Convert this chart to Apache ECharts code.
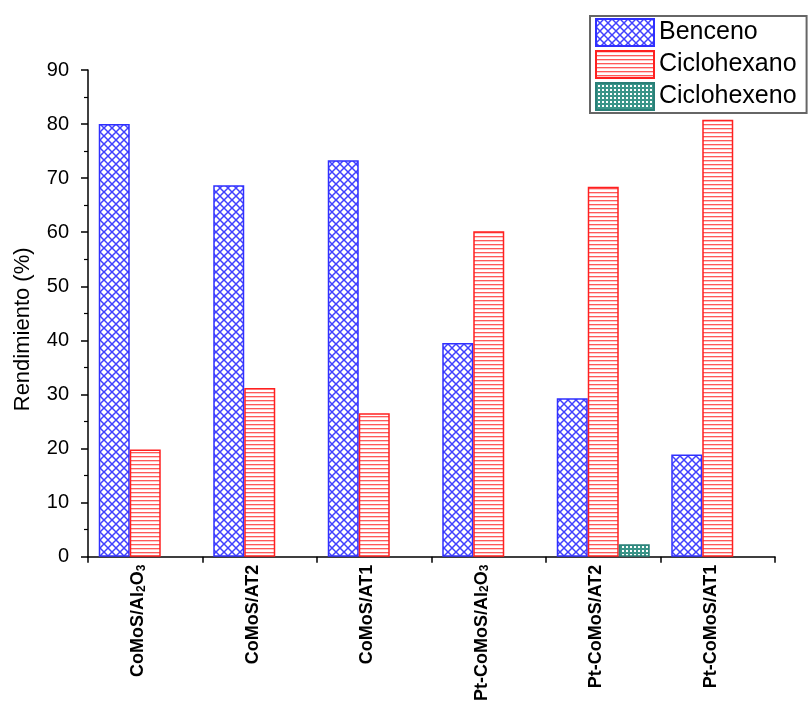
<!DOCTYPE html>
<html>
<head>
<meta charset="utf-8">
<script src="https://cdn.jsdelivr.net/npm/echarts@6/dist/echarts.min.js"></script>
<style>
html,body{margin:0;padding:0;background:#fff;}
#c{width:808px;height:704px;}
</style>
</head>
<body>
<div id="c"></div>
<script>
const categories = ['CoMoS/Al{s|2}O{s|3}', 'CoMoS/AT2', 'CoMoS/AT1', 'Pt-CoMoS/Al{s|2}O{s|3}', 'Pt-CoMoS/AT2', 'Pt-CoMoS/AT1'];
const benceno = [80.0, 68.7, 73.3, 39.5, 29.3, 18.9];
const ciclohexano = [19.8, 31.2, 26.5, 60.2, 68.4, 80.8];
const ciclohexeno = [null, null, null, null, 2.3, null];
const yTicks = { min: 0, max: 90, interval: 10 };

const FF = 'Arial, "Liberation Sans", sans-serif';

function makePattern(w, h, draw) {
  const cv = document.createElement('canvas');
  cv.width = w; cv.height = h;
  const ctx = cv.getContext('2d');
  ctx.fillStyle = '#ffffff';
  ctx.fillRect(0, 0, w, h);
  draw(ctx);
  return { image: cv, repeat: 'repeat' };
}
const bluePat = makePattern(8, 8, ctx => {
  ctx.strokeStyle = 'rgba(30,30,255,0.85)';
  ctx.lineWidth = 1.5;
  ctx.beginPath();
  ctx.moveTo(-1, -1); ctx.lineTo(9, 9);
  ctx.moveTo(9, -1); ctx.lineTo(-1, 9);
  ctx.stroke();
});
const redPat = makePattern(4, 4, ctx => {
  ctx.fillStyle = 'rgba(255,0,0,0.65)';
  ctx.fillRect(0, 0, 4, 1);
  ctx.fillStyle = 'rgba(255,0,0,0.22)';
  ctx.fillRect(0, 1, 4, 1);
});
const tealPat = makePattern(4, 4, ctx => {
  ctx.fillStyle = '#3a9488';
  ctx.fillRect(0, 0, 4, 4);
  ctx.fillStyle = '#ffffff';
  ctx.fillRect(2, 2, 2, 2);
});

const chart = echarts.init(document.getElementById('c'), null, { renderer: 'canvas' });
const barCommon = { type: 'bar', barWidth: 31, barGap: '0%', barCategoryGap: '19%' };
chart.setOption({
  animation: false,
  backgroundColor: '#fff',
  grid: { left: 88, right: 33, top: 70, bottom: 144, containLabel: false },
  legend: {
    left: 590, top: 16, orient: 'vertical', icon: 'rect',
    itemWidth: 58, itemHeight: 27, itemGap: 3,
    padding: [2, 10, 2, 5],
    borderColor: '#666', borderWidth: 2,
    textStyle: { fontFamily: FF, fontSize: 25, color: '#000' },
    data: ['Benceno', 'Ciclohexano', 'Ciclohexeno']
  },
  xAxis: {
    type: 'category',
    data: categories,
    axisLine: { lineStyle: { color: '#000', width: 1.5 } },
    axisTick: { show: true, length: 6, lineStyle: { color: '#000', width: 1.5 } },
    axisLabel: {
      rotate: 90, margin: 8, interval: 0,
      fontFamily: FF, fontSize: 18, fontWeight: 'bold', color: '#000',
      padding: [0, 0, 14, 0],
      rich: {
        s: { fontFamily: FF, fontSize: 12, fontWeight: 'bold', color: '#000', verticalAlign: 'bottom', padding: [6, 0, 0, 0] }
      }
    }
  },
  yAxis: {
    type: 'value',
    min: yTicks.min, max: yTicks.max, interval: yTicks.interval,
    name: 'Rendimiento (%)', nameLocation: 'middle', nameGap: 54,
    nameTextStyle: { fontFamily: FF, fontSize: 22, color: '#000', padding: [0, 32, 0, 0] },
    axisLine: { show: true, lineStyle: { color: '#000', width: 1.5 } },
    axisTick: { show: true, length: 7, lineStyle: { color: '#000', width: 1.5 } },
    minorTick: { show: true, splitNumber: 2, length: 4, lineStyle: { color: '#000', width: 1.2 } },
    splitLine: { show: false },
    axisLabel: { fontFamily: FF, fontSize: 20, color: '#000', margin: 19 }
  },
  series: [
    Object.assign({}, barCommon, { name: 'Benceno', data: benceno,
      itemStyle: { color: bluePat, borderColor: '#3030ff', borderWidth: 1.5 } }),
    Object.assign({}, barCommon, { name: 'Ciclohexano', data: ciclohexano,
      itemStyle: { color: redPat, borderColor: '#ff2020', borderWidth: 1.5 } }),
    Object.assign({}, barCommon, { name: 'Ciclohexeno', data: ciclohexeno,
      itemStyle: { color: tealPat, borderColor: '#2a8078', borderWidth: 1.5 } })
  ]
});
</script>
</body>
</html>
